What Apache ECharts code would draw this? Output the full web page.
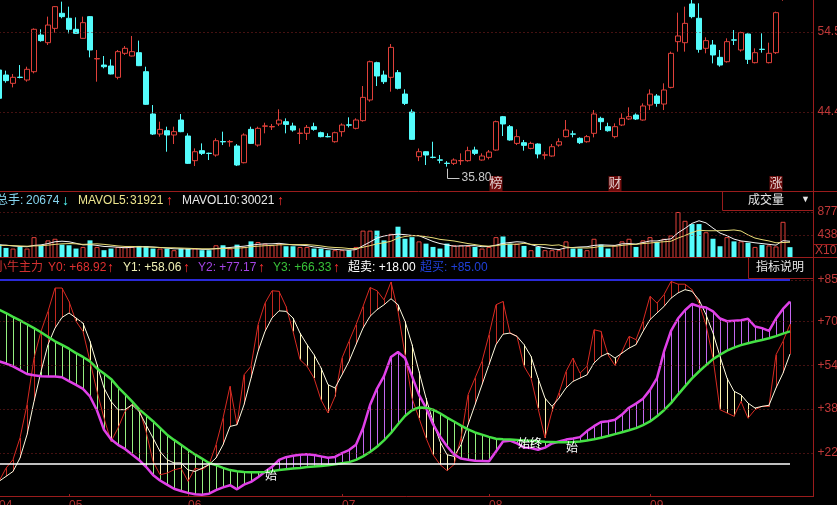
<!DOCTYPE html>
<html><head><meta charset="utf-8">
<script src="https://cdn.jsdelivr.net/npm/echarts@6/dist/echarts.min.js"></script>
<style>html,body{margin:0;padding:0;background:#000;}#c{width:837px;height:505px;}</style>
</head><body><div id="c"></div>
<script>
// ---------- DATA ----------
const monthStarts = [0, 10, 27, 49, 70, 93];
const monthLabels = ['04', '05', '06', '07', '08', '09'];
// [open, close, low, high]
const candles = [
[49.70,46.13,45.92,50.12],[49.07,48.36,48.10,49.62],[48.02,48.78,47.51,49.20],[48.80,48.76,48.65,50.33],[48.44,49.79,48.23,50.12],
[49.49,54.84,49.28,54.96],[54.12,53.41,53.28,54.84],[53.15,55.38,52.86,56.44],[54.96,57.70,54.42,57.78],[56.86,56.44,56.23,58.33],
[56.23,54.84,54.33,57.70],[54.84,54.33,54.25,56.35],[53.70,55.68,53.65,56.44],[56.44,52.23,51.30,56.50],[51.10,51.15,48.23,52.23],
[50.33,50.12,49.91,51.47],[50.21,49.20,49.15,51.05],[48.78,52.02,48.52,52.23],[51.81,52.44,51.60,52.73],[51.47,52.02,51.42,54.00],
[51.89,50.25,50.20,53.41],[49.49,45.37,45.30,50.12],[44.15,41.62,41.50,45.28],[41.62,42.21,41.29,43.18],[42.04,41.50,39.39,42.55],
[41.50,41.92,40.36,42.55],[43.39,41.92,41.85,44.15],[41.37,37.92,37.84,41.71],[38.26,39.39,37.58,39.81],[39.52,39.18,38.97,40.44],
[39.20,39.16,38.34,39.27],[38.97,40.78,38.76,41.08],[40.68,40.63,40.23,41.92],[40.63,40.68,40.02,40.87],[40.11,37.71,37.58,40.36],
[38.00,41.50,37.92,41.71],[42.21,40.44,40.36,42.55],[40.23,42.34,40.02,42.55],[42.60,42.65,41.71,43.05],[42.52,42.57,42.13,42.89],
[42.89,43.39,42.63,44.74],[43.18,42.84,41.71,43.60],[42.63,42.13,41.92,43.05],[41.69,41.74,40.36,42.34],[41.71,42.46,40.87,42.76],
[42.55,42.21,42.04,43.05],[41.79,41.29,41.20,41.92],[41.31,41.27,41.20,41.71],[40.65,41.79,40.53,41.92],[41.92,42.76,41.29,42.97],
[42.78,42.74,42.46,43.73],[42.34,43.39,42.21,43.60],[43.31,46.25,43.18,47.68],[45.92,50.75,45.70,50.88],[50.63,48.95,47.68,50.75],
[49.07,48.23,47.94,49.62],[48.78,52.56,46.97,52.98],[49.37,47.39,47.26,49.70],[46.67,45.49,45.28,47.26],[44.40,40.95,40.87,44.74],
[38.76,39.39,38.20,39.80],[39.39,38.97,37.71,39.45],[38.70,38.66,38.55,40.65],[38.36,38.32,37.92,38.97],[37.94,37.90,37.50,38.20],
[37.92,38.34,37.71,38.55],[38.24,38.28,37.71,39.18],[38.26,39.52,38.13,40.02],[39.60,39.18,38.97,40.02],[38.34,38.85,38.26,39.18],
[38.68,39.35,38.42,39.60],[39.60,43.18,39.52,43.31],[43.81,42.89,41.37,43.90],[42.55,40.87,40.78,42.76],[40.44,41.29,40.23,42.21],
[40.53,40.19,39.52,40.87],[39.81,40.44,39.69,40.65],[40.36,39.10,38.55,40.44],[38.95,39.00,38.42,39.39],[38.85,40.02,38.76,40.36],
[40.23,40.65,40.02,41.08],[41.29,42.13,41.20,43.39],[41.64,41.60,41.20,42.04],[41.08,40.53,40.36,41.20],[40.65,41.29,40.53,41.50],
[41.71,44.15,41.20,44.65],[43.60,43.18,42.13,43.81],[42.55,42.04,41.92,43.05],[41.29,42.55,41.08,42.97],[42.76,43.60,42.63,44.23],
[43.52,43.81,43.39,44.99],[44.02,43.52,43.39,44.23],[43.39,45.16,43.31,45.49],[45.28,46.67,44.65,47.26],[46.42,45.49,45.07,46.67],
[45.41,47.18,44.65,48.02],[47.51,51.81,47.39,52.02],[53.28,54.00,52.02,56.94],[53.15,55.59,52.02,57.70],[58.04,56.44,56.23,58.54],
[56.23,52.31,51.89,58.12],[52.44,53.41,51.81,53.83],[52.86,51.60,50.54,53.49],[51.30,50.33,50.12,52.23],[50.75,53.28,50.63,53.70],
[53.51,53.47,52.86,54.75],[52.23,54.42,52.02,54.54],[54.25,51.05,50.46,54.33],[50.63,51.89,50.54,52.44],[52.33,52.29,51.89,54.33],
[50.63,51.81,50.54,53.15],[51.89,56.94,51.72,57.07],[58.80,60.50,58.45,61.00],[61.50,60.80,59.80,62.50]
];
const volume = [
25500,19200,18000,21100,18000,39800,24300,33600,36700,25500,
24300,18000,21100,33600,21100,14900,18000,21100,21100,21100,
23000,22400,18000,18000,18000,14900,18000,18000,18000,14900,
14900,24300,24300,18000,25500,21100,31700,30500,27400,24300,
27400,22400,22400,21100,21100,18000,18000,14900,14900,14900,
14900,21100,52200,52200,52200,33600,46000,59700,36700,39800,
31700,27400,21100,18000,27400,24300,24300,23000,21100,18000,
21100,39800,41000,27400,27400,23000,14900,21100,14900,14900,
14900,31700,18000,18000,14900,36700,25500,18000,24300,31700,
36700,21100,33600,39800,30500,36700,42900,87700,70900,64700,
64700,49100,36700,22400,39800,31700,31700,29200,21100,25000,
24000,22000,69000,20674];
const mavol5 = [
25000,24500,23000,22000,21500,24000,25000,27500,31000,32000,
31000,28000,25000,25500,24000,22000,21500,20500,19500,20500,
21500,21500,21000,20000,19000,17500,17500,17000,17500,16500,
16500,18000,19000,20000,21500,22500,24500,26000,27000,27000,
28000,26500,25000,24500,23500,21000,19500,17500,16500,15500,
15000,16000,23500,30500,38000,42000,44000,45500,44500,43000,
42500,37000,31500,27500,25000,22500,23000,23500,23500,21500,
22000,24500,28000,29500,31000,30000,25500,22000,19500,17500,
16000,19500,20000,21000,21500,24000,25000,24500,24000,27000,
27500,26500,29500,32500,32500,35000,36500,48000,56500,66000,
71000,67000,57000,47500,42500,36000,32500,31000,29000,27500,
26000,24500,33000,31921];
const mavol10 = [
24000,24000,23500,23000,22500,23000,23500,24500,26000,27000,
27500,27000,26000,26500,27000,26000,24500,23000,22000,22000,
21500,21000,20500,20000,19500,19500,19000,18500,18000,17500,
17500,17500,18000,18500,19000,19500,21500,22500,23500,24000,
25000,25500,25500,25500,25500,24500,23000,21000,20000,19500,
18000,18000,20500,23500,27000,29000,32000,38000,41000,42500,
42500,40500,38500,35500,34000,32500,30000,27500,25500,23500,
22500,23500,25500,26500,26000,28000,26000,25500,25500,24000,
25000,21000,19500,19500,19000,20000,22500,22500,22500,24000,
25500,26000,27500,28500,30000,31000,32000,38000,43000,48500,
53000,52000,52000,52000,52500,53500,51500,44000,38000,35000,
32500,29000,29500,30021];
const y0 = [
11.7,16.5,19.6,27.5,39.6,56.6,66.3,73.6,82.1,82.1,
77.2,70.0,66.3,55.4,44.5,34.7,26.2,31.1,37.2,39.6,
38.4,29.9,19.0,14.1,14.7,15.9,16.5,11.7,16.5,15.9,
17.8,25.0,34.7,46.3,32.3,50.5,53.6,68.7,76.6,81.1,
80.9,75.4,66.3,56.0,53.6,49.3,41.4,36.6,42.6,56.6,
62.7,68.7,75.4,82.3,81.1,77.8,84.3,73.6,57.8,42.0,
34.7,27.5,21.4,17.8,15.6,17.8,27.5,43.2,49.3,55.4,
65.1,76.0,77.2,65.7,64.5,53.6,49.3,38.4,27.5,37.2,
43.9,51.7,56.6,51.1,53.6,66.9,66.3,57.8,53.9,59.0,
64.5,63.3,70.0,79.1,76.6,79.7,84.5,83.5,83.5,81.5,
76.6,68.7,56.6,37.8,36.6,35.4,40.8,34.7,37.8,39.0,
39.0,57.8,62.7,68.92];
const y1 = [
11.7,13.5,15.3,20.2,28.7,40.8,51.7,61.5,67.5,71.4,
73.0,71.2,69.3,62.7,54.2,45.7,40.8,37.8,37.8,39.6,
37.2,32.3,27.5,22.6,19.6,18.4,18.4,15.9,15.3,16.5,
17.8,20.2,25.0,31.7,32.3,39.6,49.3,59.0,66.3,71.2,
73.8,73.6,71.2,65.7,61.5,57.8,53.0,46.9,45.7,50.5,
55.4,61.5,67.5,71.8,74.2,76.0,78.2,76.0,70.0,61.5,
51.7,42.0,33.5,26.2,21.4,20.8,25.0,32.3,39.6,46.9,
54.2,61.5,65.3,65.7,64.5,61.5,57.2,49.3,42.0,39.0,
42.0,45.7,48.1,49.3,50.5,54.8,57.2,58.4,56.6,58.4,
60.2,61.5,66.3,70.6,73.0,75.4,78.4,80.3,81.5,80.9,
77.8,72.4,65.7,57.2,49.3,44.5,43.2,40.2,38.4,39.0,
39.4,45.7,51.1,58.06];
const y2 = [
55.4,54.6,53.6,52.2,50.8,50.3,50.0,49.9,49.9,49.6,
48.2,46.8,45.4,42.6,37.5,30.5,27.0,25.0,23.5,21.5,
19.5,17.0,14.0,12.0,10.5,9.0,8.2,7.5,7.0,6.8,
7.2,8.5,9.5,10.3,8.8,10.5,11.5,13.2,15.2,17.0,
19.5,20.5,21.0,21.4,21.6,21.3,20.8,20.3,20.6,22.0,
23.1,25.0,31.0,39.5,45.5,50.0,57.0,58.8,56.6,50.0,
43.2,38.5,32.5,28.0,24.5,21.5,20.0,19.6,19.2,19.1,
19.0,22.6,26.2,26.5,25.5,24.0,23.8,23.2,24.0,25.5,
26.2,26.9,27.3,27.8,30.0,31.8,33.3,33.6,34.1,36.0,
38.5,40.0,41.8,45.0,49.3,59.0,66.5,71.0,74.0,76.3,
75.4,75.0,73.6,71.0,70.0,70.2,70.4,70.9,68.1,67.5,
66.5,71.0,74.5,77.17];
const y3 = [
74.2,73.0,71.6,70.3,68.9,67.5,66.0,64.3,62.7,61.4,
60.0,58.4,57.0,55.4,52.8,51.0,49.0,46.0,43.5,40.8,
38.0,35.8,33.6,31.2,28.7,26.8,25.0,23.2,21.5,20.0,
18.4,17.6,16.6,15.8,15.4,15.1,15.0,15.0,15.1,15.4,
15.8,16.1,16.4,16.6,16.9,17.1,17.3,17.6,17.9,18.3,
18.7,19.5,20.8,22.4,24.3,26.6,29.3,32.5,35.5,37.6,
38.6,38.5,37.8,36.5,34.9,33.5,32.0,30.6,29.5,28.7,
27.9,27.2,27.0,26.9,26.8,26.6,26.5,26.3,26.1,26.0,
25.9,25.9,26.0,26.2,26.6,27.0,27.6,28.2,28.9,29.6,
30.3,31.1,32.2,33.5,35.4,37.6,40.2,43.3,46.3,49.2,
51.7,54.0,56.2,57.8,59.3,60.4,61.3,62.0,62.6,63.2,
63.8,64.6,65.5,66.33];
const priceTicks = [54.5, 44.4];
const priceTickLabels = ['54.5', '44.4'];
const volTicks = [87700, 43850];
const volTickLabels = ['877', '438'];
const indTicks = [85, 70, 54, 38, 22];
const indTickLabels = ['+85', '+70', '+54', '+38', '+22'];
const oversold = 18.00, overbought = 85.00;
const eventIdx = [50, 71, 88, 111];
const eventText = ['q', '榜', '财', '涨'];
const lowIdx = 64, lowLabel = '35.80';

// ---------- CHART ----------
const N = candles.length, EXTRA = 3;
const categories = Array.from({length: N + EXTRA}, (_, i) => {
  const k = monthStarts.indexOf(i); return k >= 0 ? monthLabels[k] : '';
});
const FF = "'Liberation Sans','Noto Sans CJK SC',sans-serif";
const RED = '#e0403a', CYAN = '#54fcfc', AXC = '#c03838', SEP = '#9a1c1c', GRIDC = '#8a2222';
const priceMin = 34.43, priceMax = 58.54;

const volData = volume.map((v, i) => {
  const up = candles[i][1] >= candles[i][0];
  return {value: v, itemStyle: up ? {color: '#000', borderColor: RED, borderWidth: 1} : {color: CYAN, borderWidth: 0}};
});

function vlines(a, b, cA, cB) {
  return {
    type: 'custom', xAxisIndex: 2, yAxisIndex: 2, silent: true,
    data: a.map((v, i) => [i, v, b[i]]),
    encode: {x: 0, y: [1, 2]},
    renderItem: function (params, api) {
      const va = api.value(1), vb = api.value(2);
      const p1 = api.coord([api.value(0), va]), p2 = api.coord([api.value(0), vb]);
      const x = Math.round(p1[0]) + 0.5;
      return {type: 'line', shape: {x1: x, y1: p1[1], x2: x, y2: p2[1]},
        style: {stroke: va >= vb ? cA : cB, lineWidth: 1}};
    }
  };
}
function tickLines(vals, labels) {
  return vals.map((v, k) => ({yAxis: v, lineStyle: {type: [1, 3], color: GRIDC, width: 1},
    label: {show: true, position: 'end', formatter: labels[k], color: AXC, fontSize: 12, fontFamily: FF, distance: 3}}));
}
const lineBase = {type: 'line', xAxisIndex: 2, yAxisIndex: 2, symbol: 'none', silent: true, smooth: false};

const gridBase = {left: -4.5, right: 22.5, show: false, outerBoundsMode: 'none', containLabel: false};
const hiddenX = i => ({type: 'category', gridIndex: i, data: categories, boundaryGap: true, show: false});

const option = {
  backgroundColor: '#000',
  animation: false,
  grid: [
    Object.assign({top: 0, height: 191}, gridBase),
    Object.assign({top: 212, height: 46}, gridBase),
    Object.assign({top: 278, height: 219}, gridBase)
  ],
  xAxis: [hiddenX(0), hiddenX(1), {
    type: 'category', gridIndex: 2, data: categories, boundaryGap: true,
    axisLine: {show: false},
    axisTick: {show: true, inside: true, length: 3, alignWithLabel: true,
      interval: (i) => monthStarts.includes(i), lineStyle: {color: SEP}},
    axisLabel: {show: true, interval: (i) => monthStarts.includes(i), color: '#b03030',
      fontSize: 12, fontFamily: FF, margin: 3, align: 'left'}
  }],
  yAxis: [
    {type: 'value', gridIndex: 0, min: priceMin, max: priceMax, show: false},
    {type: 'value', gridIndex: 1, min: 0, max: 87700, show: false},
    {type: 'value', gridIndex: 2, min: 6, max: 85.75, show: false}
  ],
  series: [
    {type: 'candlestick', xAxisIndex: 0, yAxisIndex: 0, data: candles, barWidth: 5, clip: true, silent: true, z: 3,
      itemStyle: {color: '#000', color0: CYAN, borderColor: RED, borderColor0: CYAN, borderWidth: 1}},
    {type: 'line', xAxisIndex: 0, yAxisIndex: 0, data: [], silent: true, z: 1,
      markLine: {silent: true, symbol: 'none', animation: false, data: tickLines(priceTicks, priceTickLabels)}},
    {type: 'scatter', xAxisIndex: 0, yAxisIndex: 0, silent: true, z: 5,
      data: eventIdx.map((i, k) => ({
        value: [i, priceMin + 0.94],
        symbol: k === 0 ? 'none' : 'rect', symbolSize: [13, 15],
        itemStyle: {color: '#8a1010'},
        label: {show: true, position: 'inside', formatter: eventText[k],
          color: k === 0 ? '#e03030' : '#ffffff', fontSize: k === 0 ? 14 : 13,
          fontWeight: k === 0 ? 'bold' : 'normal', fontFamily: FF}
      }))},
    {type: 'bar', xAxisIndex: 1, yAxisIndex: 1, data: volData, barWidth: 5, silent: true, z: 3},
    {type: 'line', xAxisIndex: 1, yAxisIndex: 1, data: [], silent: true, z: 1,
      markLine: {silent: true, symbol: 'none', animation: false, data: tickLines(volTicks, volTickLabels)}},
    {type: 'line', xAxisIndex: 1, yAxisIndex: 1, data: mavol5, symbol: 'none', silent: true, z: 4,
      lineStyle: {color: '#f2f2f2', width: 1}},
    {type: 'line', xAxisIndex: 1, yAxisIndex: 1, data: mavol10, symbol: 'none', silent: true, z: 4,
      lineStyle: {color: '#e8dc78', width: 1}},
    {type: 'line', xAxisIndex: 2, yAxisIndex: 2, data: [], silent: true, z: 1,
      markLine: {silent: true, symbol: 'none', animation: false, data: tickLines(indTicks, indTickLabels)}},
    vlines(y2, y3, '#c468f0', '#96f080'),
    vlines(y0, y1, '#c0281f', '#fff6b0'),
    Object.assign({}, lineBase, {data: y0, lineStyle: {color: '#d82a22', width: 1},
      markLine: {silent: true, symbol: 'none', animation: false, data: [
        [{coord: [0, oversold], lineStyle: {color: '#ffffff', width: 1.5, type: 'solid'}, label: {show: false}}, {coord: [N - 1, oversold]}],
        [{coord: [0, overbought], lineStyle: {color: '#2a2ad8', width: 2, type: 'solid'}, label: {show: false}}, {coord: [N - 1, overbought]}]
      ]}}),
    Object.assign({}, lineBase, {data: y1, lineStyle: {color: '#fffbe0', width: 1}}),
    Object.assign({}, lineBase, {data: y2, lineStyle: {color: '#e040e8', width: 2.5}}),
    Object.assign({}, lineBase, {data: y3, lineStyle: {color: '#44e044', width: 2.5}})
  ]
};

const chart = echarts.init(document.getElementById('c'), null, {renderer: 'canvas'});
chart.setOption(option);

// ---------- decorations / legend text ----------
function T(text, x, y, color, size, weight) {
  return {type: 'text', silent: true, z: 100, style: {text: text, x: x, y: y, fill: color,
    font: (weight || 'normal') + ' ' + (size || 12) + 'px ' + FF, textVerticalAlign: 'middle', verticalAlign: 'middle'}};
}
function L(x1, y1, x2, y2, color, w) {
  return {type: 'line', silent: true, z: 90, shape: {x1: x1, y1: y1, x2: x2, y2: y2}, style: {stroke: color, lineWidth: w || 1}};
}
const fmt = v => (v >= 0 ? '+' : '') + v.toFixed(2);
const UP = '#ff3030';
const lowPx = chart.convertToPixel({gridIndex: 0}, [lowIdx, candles[lowIdx][2]]);
const lx = Math.round(lowPx[0]) + 0.5;
const els = [
  L(0, 191.5, 837, 191.5, SEP), L(0, 257.5, 837, 257.5, SEP), L(0, 496.5, 813.5, 496.5, SEP),
  L(813.5, 0, 813.5, 497, SEP),
  L(722.5, 191.5, 722.5, 210.5, SEP), L(722.5, 210.5, 813.5, 210.5, SEP),
  L(748.5, 257.5, 748.5, 278.5, SEP), L(748.5, 278.5, 813.5, 278.5, SEP),
  {type: 'rect', silent: true, z: 90, shape: {x: 813.5, y: 244.5, width: 40, height: 13}, style: {stroke: SEP, fill: 'none'}},
  T('X10', 815, 251, AXC, 12),
  T('成交量', 748, 201, '#e6e6e6', 12), T('▼', 801, 200, '#e6e6e6', 9),
  T('指标说明', 756, 268, '#e6e6e6', 12),
  // volume legend
  T('总手:', -4, 201, '#86d4ee', 12), T(String(volume[N - 1]), 26, 201, '#86d4ee', 12), T('↓', 62, 201, CYAN, 14, 'bold'),
  T('MAVOL5:', 78, 201, '#ece48e', 12), T(String(mavol5[N - 1]), 130, 201, '#ece48e', 12), T('↑', 166, 201, UP, 14, 'bold'),
  T('MAVOL10:', 182, 201, '#e8e8e8', 12), T(String(mavol10[N - 1]), 241, 201, '#e8e8e8', 12), T('↑', 277, 201, UP, 14, 'bold'),
  // indicator legend
  T('小牛主力', -5, 268, '#d03030', 12),
  T('Y0: ' + fmt(y0[N - 1]), 48, 268, '#e03030', 12), T('↑', 107, 268, UP, 14, 'bold'),
  T('Y1: ' + fmt(y1[N - 1]), 123, 268, '#f0f0b4', 12), T('↑', 183, 268, UP, 14, 'bold'),
  T('Y2: ' + fmt(y2[N - 1]), 198, 268, '#a444e4', 12), T('↑', 258, 268, UP, 14, 'bold'),
  T('Y3: ' + fmt(y3[N - 1]), 273, 268, '#38c038', 12), T('↑', 333, 268, UP, 14, 'bold'),
  T('超卖: ' + fmt(oversold), 348, 268, '#ffffff', 12),
  T('超买: ' + fmt(overbought), 420, 268, '#2040d8', 12),
  // low annotation
  {type: 'polyline', silent: true, z: 95, shape: {points: [[lx, lowPx[1] + 2], [lx, 178.5], [lx + 12, 178.5]]}, style: {stroke: '#c8c8c8', lineWidth: 1, fill: 'none'}},
  T(lowLabel, lx + 14, 178, '#c8c8c8', 12),
  // indicator text marks
  T('始', 265, 477, '#ffffff', 12), T('始终', 518, 445, '#ffffff', 12), T('始', 566, 449, '#ffffff', 12)
];
chart.setOption({graphic: {elements: els}});
</script>
</body></html>
